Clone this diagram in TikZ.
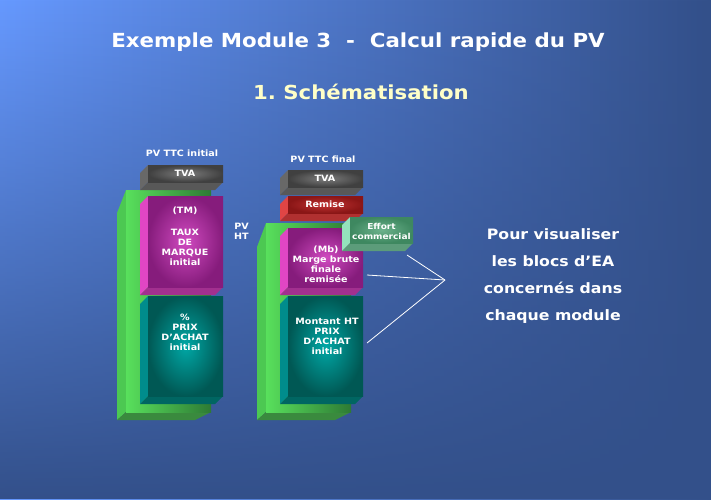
\documentclass[tikz,border=0pt]{standalone}
\usepackage{fontspec}
\setmainfont{DejaVu Sans}[FakeStretch=1.1]
\usetikzlibrary{fadings}
\frenchspacing
\definecolor{bgL}{HTML}{6699FF}
\definecolor{bgR}{HTML}{33508A}
\definecolor{subt}{HTML}{FFFFC8}
\definecolor{grF1}{HTML}{58E05C}
\definecolor{grF2}{HTML}{2E7A34}
\definecolor{grS}{HTML}{4CC852}
\definecolor{grB}{HTML}{3A8A3E}
\definecolor{pkS}{HTML}{E046C4}
\definecolor{pkB}{HTML}{A2308F}
\definecolor{pkI}{HTML}{D04AC0}
\definecolor{pkO}{HTML}{861C7C}
\definecolor{tlS}{HTML}{008C8C}
\definecolor{tlB}{HTML}{006662}
\definecolor{tlI}{HTML}{00A8A6}
\definecolor{tlO}{HTML}{005854}
\definecolor{gyS}{HTML}{686868}
\definecolor{gyB}{HTML}{585858}
\definecolor{gyI}{HTML}{7C7C7C}
\definecolor{gyO}{HTML}{404040}
\definecolor{rdS}{HTML}{E04545}
\definecolor{rdB}{HTML}{B03030}
\definecolor{rdI}{HTML}{C23232}
\definecolor{rdO}{HTML}{8A1616}
\definecolor{efS}{HTML}{94E2BC}
\definecolor{efB}{HTML}{5C9C7A}
\definecolor{efI}{HTML}{6CB28C}
\definecolor{efO}{HTML}{3E8860}
\newcommand\blocthreed[8]{%
  \fill[#5] (#1,#2) -- (#1-8,#2+8) -- (#1-8,#4+8) -- (#1,#4) -- cycle;
  \fill[#6] (#1,#4) -- (#1-8,#4+8) -- (#3-8,#4+8) -- (#3,#4) -- cycle;
  \shade[inner color=#7,outer color=#8] (#1,#2) rectangle (#3,#4);
}
\begin{document}
\begin{tikzpicture}[x=1pt,y=-1pt,
  ttl/.style={text=white,font=\bfseries\fontsize{19.4}{22}\selectfont,inner sep=0pt},
  sub/.style={text=subt,font=\bfseries\fontsize{19.3}{22}\selectfont,inner sep=0pt},
  lab/.style={text=white,font=\bfseries\fontsize{8.7}{10}\selectfont,inner sep=0pt,align=center},
  boxt/.style={text=white,font=\bfseries\fontsize{8.7}{10}\selectfont,inner sep=0pt,align=center},
  side/.style={text=white,font=\bfseries\fontsize{14.3}{27}\selectfont,inner sep=0pt,align=center},
  conn/.style={white,line width=0.8pt}]
\useasboundingbox (0,0) rectangle (711,499);
% background
\fill[left color=bgL,right color=bgR] (0,0) rectangle (711,499);
\fill[bgR,path fading=north] (0,0) rectangle (711,499);
% titles
\node[ttl] (title) at (358,42) {Exemple Module 3\ \ -\ \ Calcul rapide du PV};
\node[sub] (subtitle) at (361,92) {1. Schématisation};

% ---------- left column ----------
\node[lab] (pvttci) at (182,153) {PV TTC initial};
% green block
\fill[grS] (126,190) -- (117,213) -- (117,420) -- (126,412) -- cycle;
\fill[grB] (117,420) -- (195,420) -- (211,412) -- (126,412) -- cycle;
\shade[left color=grF1, right color=grF2] (126,190) rectangle (211,412);
% TVA
\blocthreed{148}{165}{223}{182}{gyS}{gyB}{gyI}{gyO}
\node[boxt] (tvaL) at (185,173.5) {TVA};
% pink
\blocthreed{148}{196}{223}{287}{pkS}{pkB}{pkI}{pkO}
\node[boxt] (tmL) at (185,211) {(TM)};
\node[boxt] (tauxL) at (185,247) {TAUX\\DE\\MARQUE\\initial};
% teal
\blocthreed{148}{296}{223}{396}{tlS}{tlB}{tlI}{tlO}
\node[boxt] (paL) at (185,332) {\%\\PRIX\\D’ACHAT\\initial};
\node[lab,anchor=west] (pvht) at (234,231) {PV\\HT};

% ---------- right column ----------
\node[lab] (pvttcf) at (323,159) {PV TTC final};
\fill[grS] (266,223) -- (257,247) -- (257,420) -- (266,412) -- cycle;
\fill[grB] (257,420) -- (335,420) -- (351,412) -- (266,412) -- cycle;
\shade[left color=grF1, right color=grF2] (266,223) rectangle (351,412);
\blocthreed{288}{170}{363}{187}{gyS}{gyB}{gyI}{gyO}
\node[boxt] (tvaR) at (325,178.5) {TVA};
\blocthreed{288}{196}{363}{213}{rdS}{rdB}{rdI}{rdO}
\node[boxt] (remise) at (325,204.5) {Remise};
\blocthreed{288}{228}{363}{287}{pkS}{pkB}{pkI}{pkO}
\node[boxt] (mb) at (326,264) {(Mb)\\Marge brute\\finale\\remisée};
\blocthreed{288}{296}{363}{396}{tlS}{tlB}{tlI}{tlO}
\node[boxt] (paR) at (327,336.5) {Montant HT\\PRIX\\D’ACHAT\\initial};
% effort commercial
\blocthreed{350}{217}{413}{243}{efS}{efB}{efI}{efO}
\node[boxt,font=\bfseries\fontsize{8.2}{10}\selectfont] (effort) at (381.5,231) {Effort\\commercial};

% connectors
\coordinate (conv) at (445,280);
\coordinate (c1) at (407,255);
\coordinate (c2) at (367,275);
\coordinate (c3) at (367,343);
\draw[conn] (c1) -- (conv);
\draw[conn] (c2) -- (conv);
\draw[conn] (c3) -- (conv);

% side text
\node[side] (note) at (553,276.5) {Pour visualiser\\les blocs d’EA\\concernés dans\\chaque module};
\end{tikzpicture}
\end{document}
